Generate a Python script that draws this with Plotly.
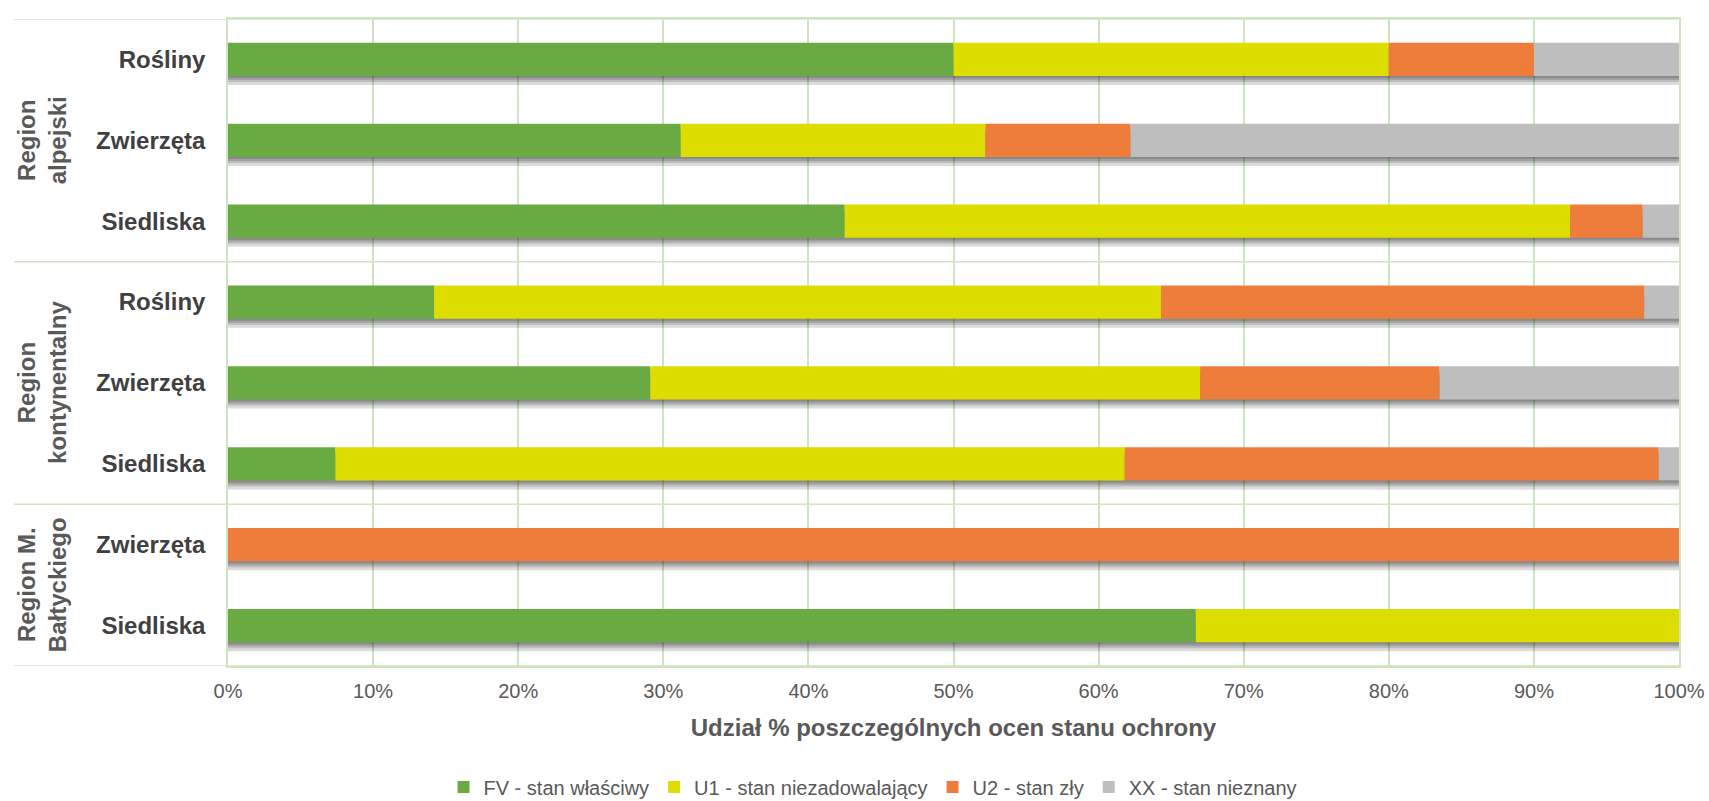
import plotly.graph_objects as go

# ---------------- data ----------------
regions = ["Region<br>alpejski", "Region<br>kontynentalny", "Region M.<br>Bałtyckiego"]
region_sizes = [3, 3, 2]
categories = ["Rośliny", "Zwierzęta", "Siedliska",
              "Rośliny", "Zwierzęta", "Siedliska",
              "Zwierzęta", "Siedliska"]
fv = [50.0, 31.2, 42.5, 14.2, 29.1, 7.4, 0.0, 66.7]
u1 = [30.0, 21.0, 50.0, 50.1, 37.9, 54.4, 0.0, 33.3]
u2 = [10.0, 10.0, 5.0, 33.3, 16.5, 36.8, 100.0, 0.0]
xx = [10.0, 37.8, 2.5, 2.4, 16.5, 1.4, 0.0, 0.0]
series_names = ["FV - stan właściwy", "U1 - stan niezadowalający",
                "U2 - stan zły", "XX - stan nieznany"]
x_ticks = [0, 10, 20, 30, 40, 50, 60, 70, 80, 90, 100]
x_tick_labels = [f"{v}%" for v in x_ticks]
x_title = "Udział % poszczególnych ocen stanu ochrony"

# ---------------- style ----------------
colors = ["#6AAA42", "#DDDD00", "#EE7D3C", "#BEBEBE"]
grid_col = "#CFE4C3"
FONT = "Liberation Sans, Arial, sans-serif"
W, H = 1709, 801
ML, MR, MT, MB = 228, 30, 19, 135
BAR_W = 0.41

n = len(categories)
pos = list(range(n))
px_per_unit = (H - MT - MB) / n

fig = go.Figure()

# drop shadow under every bar (several translucent layers)
totals = [a + b + c + d for a, b, c, d in zip(fv, u1, u2, xx)]
for k in (2, 4, 6, 9):
    fig.add_trace(go.Bar(
        y=[p + k / px_per_unit for p in pos], x=totals, base=[0] * n,
        orientation="h", width=BAR_W,
        marker=dict(color="rgba(0,0,0,0.14)", line=dict(width=0)),
        showlegend=False, hoverinfo="skip"))

series = [fv, u1, u2, xx]
cum = [0.0] * n
for name, vals, col in zip(series_names, series, colors):
    fig.add_trace(go.Bar(
        y=pos, x=vals, base=cum[:], name=name, orientation="h", width=BAR_W,
        marker=dict(color=col, line=dict(width=0))))
    cum = [c + v for c, v in zip(cum, vals)]

# region separators and outer horizontal lines (extend into label area)
x_left = (14 - ML) / (W - ML - MR)
shapes = []
bounds = [-0.5]
acc = -0.5
for s in region_sizes:
    acc += s
    bounds.append(acc)
for b in bounds:
    shapes.append(dict(type="line", xref="paper", yref="y", x0=x_left, x1=1,
                       y0=b, y1=b, line=dict(color=grid_col, width=1.5)))
fig.update_layout(shapes=shapes)

# region labels
annotations = []
start = 0
for r, s in zip(regions, region_sizes):
    centre = start + (s - 1) / 2
    annotations.append(dict(
        xref="paper", yref="y", x=(42 - ML) / (W - ML - MR), y=centre,
        text="<b>" + r + "</b>", textangle=-90, showarrow=False,
        font=dict(family=FONT, size=24, color="#595959"),
        xanchor="center", yanchor="middle"))
    start += s
fig.update_layout(annotations=annotations)

fig.update_layout(
    width=W, height=H,
    margin=dict(l=ML, r=MR, t=MT, b=MB, pad=0, autoexpand=False),
    barmode="overlay",
    plot_bgcolor="white", paper_bgcolor="white",
    xaxis=dict(range=[0, 100], tickvals=x_ticks, ticktext=x_tick_labels,
               automargin=False,
               showgrid=True, gridcolor=grid_col, gridwidth=1.5,
               zeroline=False, showline=True, linecolor=grid_col, linewidth=1.5,
               mirror=True, ticks="", ticklabelstandoff=6,
               tickfont=dict(family=FONT, size=20, color="#595959"),
               title=dict(text="<b>" + x_title + "</b>", standoff=18,
                          font=dict(family=FONT, size=24, color="#595959"))),
    yaxis=dict(range=[n - 0.5, -0.5], tickvals=pos, ticktext=categories,
               automargin=False,
               showgrid=False, zeroline=False, showline=True,
               linecolor=grid_col, linewidth=1.5, mirror=True, ticks="",
               ticklabelstandoff=16,
               tickfont=dict(family=FONT, size=24, color="#404040", weight="bold")),
    legend=dict(orientation="h", x=873 / W, xref="container", xanchor="center",
                y=(H - 787) / H, yref="container", yanchor="middle",
                font=dict(family=FONT, size=20, color="#595959"),
                itemwidth=30, traceorder="normal"),
)

fig.write_html("out.html", config={"displayModeBar": False},
               post_script="document.body.style.margin='0';document.body.style.overflow='hidden';")
